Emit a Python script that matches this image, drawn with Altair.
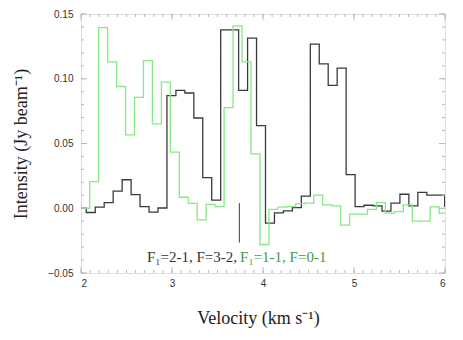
import altair as alt
import pandas as pd

# ---- data ----
black_vel = [1.911, 2.009, 2.107, 2.206, 2.304, 2.403, 2.501, 2.600, 2.698, 2.797, 2.895,
             2.994, 3.092, 3.191, 3.289, 3.387, 3.486, 3.584, 3.683, 3.781, 3.880,
             3.978, 4.077, 4.175, 4.274, 4.372, 4.471, 4.569, 4.667, 4.766, 4.864,
             4.963, 5.061, 5.160, 5.258, 5.357, 5.455, 5.554, 5.652, 5.751, 5.849,
             5.947, 6.046]
black_int = [0.0, 0.0, -0.0033, 0.0008, 0.0044, 0.0133, 0.022, 0.0105, 0.0013, -0.003, 0.0002,
             0.0869, 0.091, 0.089, 0.0697, 0.0236, 0.0062, 0.1377, 0.1377, 0.091, 0.1313,
             0.0638, -0.0115, -0.0035, -0.002, 0.0005, 0.0093, 0.1267, 0.1115, 0.0949, 0.1082,
             0.026, 0.0013, 0.0023, 0.0018, -0.0022, 0.004, 0.0108, 0.0018, 0.0122, 0.0102,
             0.0102, 0.0015]

green_vel = [1.948, 2.046, 2.145, 2.243, 2.342, 2.440, 2.539, 2.637, 2.736, 2.834, 2.933,
             3.031, 3.130, 3.228, 3.326, 3.425, 3.523, 3.622, 3.720, 3.819, 3.917,
             4.016, 4.114, 4.213, 4.311, 4.409, 4.508, 4.606, 4.705, 4.803, 4.902,
             5.000, 5.099, 5.197, 5.296, 5.394, 5.493, 5.591, 5.690, 5.788, 5.886,
             5.985, 6.083]
green_int = [0.005, 0.0, 0.0205, 0.1395, 0.113, 0.094, 0.0567, 0.0856, 0.114, 0.0651, 0.0974,
             0.0433, 0.0085, 0.0038, -0.009, 0.003, 0.0013, 0.0777, 0.1408, 0.113, 0.042,
             -0.028, -0.0008, 0.0008, 0.0013, 0.0035, 0.004, 0.0102, 0.0026, 0.0018, -0.013,
             -0.0046, -0.0046, -0.0008, 0.0044, -0.0038, -0.0026, 0.0026, -0.010, -0.010, 0.001,
             -0.0038, -0.0038]

x_ticks = [2, 3, 4, 5, 6]
y_ticks = [-0.05, 0.0, 0.05, 0.10, 0.15]
x_minor = [round(2 + 0.1 * i, 2) for i in range(41)]
y_minor = [round(-0.05 + 0.01 * i, 3) for i in range(21)]

marker_v = 3.74
marker_top, marker_bottom = 0.004, -0.0265
label_black = "F\u2081=2-1, F=3-2,"
label_green = "F\u2081=1-1, F=0-1"

W, H = 364, 259
FRAME = "#b8b8b8"
BLACK = "#3a3a3a"
GREEN = "#86e886"
TEXT_GREEN = "#3f9a3f"

xs = alt.Scale(domain=[2, 6], nice=False, zero=False)
ys = alt.Scale(domain=[-0.05, 0.15], nice=False, zero=False)

df_b = pd.DataFrame({"v": black_vel, "I": black_int})
df_g = pd.DataFrame({"v": green_vel, "I": green_int})

x_enc = alt.X("v:Q", scale=xs,
              axis=alt.Axis(values=x_ticks, format="d", ticks=False, domain=False, grid=False,
                            labelPadding=5, labelFontSize=10, labelFont="Liberation Sans",
                            labelColor="#333",
                            title="Velocity (km s\u207b\u00b9)", titleFont="Liberation Serif",
                            titleFontSize=18, titleFontWeight="normal", titleColor="#222",
                            titleX=W / 2 - 5, titleY=50, titleBaseline="alphabetic",
                            titleAnchor="middle"))
y_enc = alt.Y("I:Q", scale=ys,
              axis=alt.Axis(values=y_ticks, format=".2f", ticks=False, domain=False, grid=False,
                            labelPadding=8, labelFontSize=10, labelFont="Liberation Sans",
                            labelColor="#333",
                            title="Intensity (Jy beam\u207b\u00b9)", titleFont="Liberation Serif",
                            titleFontSize=18, titleFontWeight="normal", titleColor="#222",
                            titleX=-55, titleY=H / 2, titleAngle=-90,
                            titleBaseline="alphabetic", titleAnchor="middle"))

black_line = alt.Chart(df_b).mark_line(interpolate="step", color=BLACK, strokeWidth=1.3,
                                       clip=True).encode(x=x_enc, y=y_enc)
green_line = alt.Chart(df_g).mark_line(interpolate="step", color=GREEN, strokeWidth=1.3,
                                       clip=True).encode(x="v:Q", y="I:Q")

# tick marks (inward) on all four sides
dxM = pd.DataFrame({"t": x_ticks})
dxm = pd.DataFrame({"t": x_minor})
dyM = pd.DataFrame({"t": y_ticks})
dym = pd.DataFrame({"t": y_minor})

def xt(df, L):
    bot = alt.Chart(df).mark_rule(color=FRAME, strokeWidth=1).encode(
        x=alt.X("t:Q", scale=xs), y=alt.value(H), y2=alt.value(H - L))
    top = alt.Chart(df).mark_rule(color=FRAME, strokeWidth=1).encode(
        x=alt.X("t:Q", scale=xs), y=alt.value(0), y2=alt.value(L))
    return [bot, top]

def yt(df, L):
    left = alt.Chart(df).mark_rule(color=FRAME, strokeWidth=1).encode(
        y=alt.Y("t:Q", scale=ys), x=alt.value(0), x2=alt.value(L))
    right = alt.Chart(df).mark_rule(color=FRAME, strokeWidth=1).encode(
        y=alt.Y("t:Q", scale=ys), x=alt.value(W), x2=alt.value(W - L))
    return [left, right]

ticks = xt(dxm, 3) + xt(dxM, 6) + yt(dym, 3) + yt(dyM, 6)

df_m = pd.DataFrame({"v": [marker_v], "a": [marker_top], "b": [marker_bottom]})
marker = alt.Chart(df_m).mark_rule(color=BLACK, strokeWidth=1).encode(
    x=alt.X("v:Q", scale=xs), y=alt.Y("a:Q", scale=ys), y2="b:Q")

df_t = pd.DataFrame({"v": [3.715], "y": [-0.0415], "t": [label_black]})
df_t2 = pd.DataFrame({"v": [3.748], "y": [-0.0415], "t": [label_green]})
txt1 = alt.Chart(df_t).mark_text(align="right", baseline="alphabetic", font="Liberation Serif",
                                 fontSize=15, color="#333").encode(
    x=alt.X("v:Q", scale=xs), y=alt.Y("y:Q", scale=ys), text="t:N")
txt2 = alt.Chart(df_t2).mark_text(align="left", baseline="alphabetic", font="Liberation Serif",
                                  fontSize=15, color=TEXT_GREEN).encode(
    x=alt.X("v:Q", scale=xs), y=alt.Y("y:Q", scale=ys), text="t:N")

chart = alt.layer(black_line, green_line, *ticks, marker, txt1, txt2).properties(
    width=W, height=H,
    autosize=alt.AutoSizeParams(type="none"),
    padding={"left": 73, "top": 6, "right": 10, "bottom": 60},
).configure_view(stroke=FRAME, strokeWidth=1).configure(background="white")

chart.save("out.html", embed_options={"renderer": "svg", "actions": False})
